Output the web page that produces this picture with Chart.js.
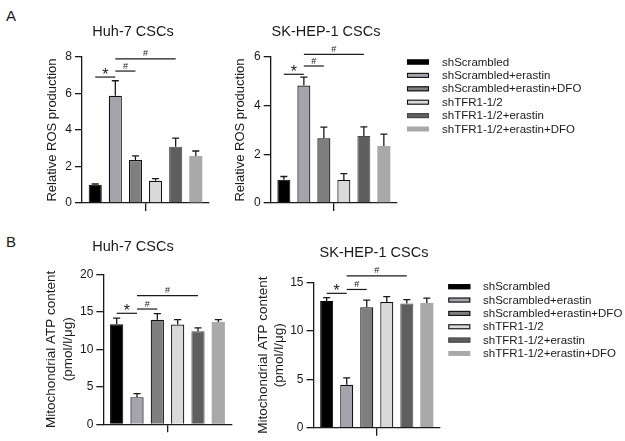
<!DOCTYPE html>
<html>
<head>
<meta charset="utf-8">
<script src="https://cdn.jsdelivr.net/npm/chart.js@4.4.1/dist/chart.umd.min.js"></script>
<style>
html,body{margin:0;padding:0;background:#ffffff;}
body{width:625px;height:441px;position:relative;overflow:hidden;font-family:"Liberation Sans",Arial,sans-serif;}
canvas{position:absolute;}
.letter{position:absolute;left:6px;font-size:15px;line-height:15px;color:#1a1a1a;}
</style>
</head>
<body>
<div class="letter" style="top:8px">A</div>
<div class="letter" style="top:234px">B</div>
<canvas id="rosHuh7" width="266" height="220" style="left:0;top:0"></canvas>
<canvas id="rosSK" width="598" height="220" style="left:27px;top:0"></canvas>
<canvas id="atpHuh7" width="266" height="221" style="left:0;top:220px"></canvas>
<canvas id="atpSK" width="502" height="221" style="left:123px;top:220px"></canvas>
<script>
// ---------- data ----------
const groups = ['shScrambled', 'shScrambled+erastin', 'shScrambled+erastin+DFO',
                'shTFR1-1/2', 'shTFR1-1/2+erastin', 'shTFR1-1/2+erastin+DFO'];
const categories = [''];

const rosHuh7Mean = [1.00, 5.88, 2.35, 1.22, 3.08, 2.58];
const rosHuh7Upper = [1.04, 6.70, 2.58, 1.34, 3.55, 2.85];
const rosSKMean = [0.96, 4.83, 2.66, 0.95, 2.75, 2.34];
const rosSKUpper = [1.09, 5.17, 3.12, 1.21, 3.13, 2.83];

const atpHuh7Mean = [13.35, 3.62, 13.95, 13.30, 12.40, 13.65];
const atpHuh7Upper = [14.15, 4.10, 14.75, 13.95, 12.85, 13.95];
const atpSKMean = [13.10, 4.45, 12.45, 13.00, 12.85, 12.90];
const atpSKUpper = [13.45, 5.15, 13.20, 13.55, 13.25, 13.40];

// significance brackets: pairs of groups, their marks and their heights (data units)
const sigPairs = [[0, 1], [1, 2], [1, 4]];
const sigMarks = ['*', '#', '#'];
const rosHuh7Sig = [6.90, 7.23, 7.90];
const rosSKSig = [5.29, 5.63, 6.11];
const atpHuh7Sig = [14.80, 15.37, 17.15];
const atpSKSig = [13.90, 14.30, 15.70];

// ---------- styles ----------
const FONT = '"Liberation Sans", Arial, sans-serif';
const INK = '#1a1a1a';
const barFill = ['#000000', '#a4a4ac', '#7f7f7f', '#d9d9d9', '#5e5e5e', '#a9a9a9'];
const barEdge = ['#000000', '#111111', '#111111', '#111111', '#4a4a4a', '#a9a9a9'];
const barEdgeW = [1, 1.2, 1.2, 1.2, 1, 0];

Chart.defaults.font.family = FONT;

function errorBarPlugin(upper) {
  return {
    id: 'errorBars',
    afterDatasetsDraw(chart) {
      const ctx = chart.ctx, ys = chart.scales.y;
      ctx.save();
      ctx.strokeStyle = INK;
      ctx.lineWidth = 1.3;
      chart.data.datasets.forEach((ds, i) => {
        const bar = chart.getDatasetMeta(i).data[0];
        const x = bar.x, y0 = bar.y, y1 = ys.getPixelForValue(upper[i]);
        const half = bar.width * 0.27;
        ctx.beginPath();
        ctx.moveTo(x, y0); ctx.lineTo(x, y1);
        ctx.moveTo(x - half, y1); ctx.lineTo(x + half, y1);
        ctx.stroke();
      });
      ctx.restore();
    }
  };
}

function sigPlugin(levels) {
  return {
    id: 'sigBars',
    afterDraw(chart) {
      const ctx = chart.ctx, ys = chart.scales.y;
      ctx.save();
      ctx.strokeStyle = INK;
      ctx.fillStyle = INK;
      ctx.lineWidth = 1.2;
      ctx.textAlign = 'center';
      ctx.textBaseline = 'alphabetic';
      sigPairs.forEach((p, k) => {
        const a = chart.getDatasetMeta(p[0]).data[0].x;
        const b = chart.getDatasetMeta(p[1]).data[0].x;
        const yy = ys.getPixelForValue(levels[k]);
        ctx.beginPath();
        ctx.moveTo(a, yy); ctx.lineTo(b, yy);
        ctx.stroke();
        if (sigMarks[k] === '*') {
          ctx.font = '16px ' + FONT;
          ctx.fillText('*', (a + b) / 2, yy + 3);
        } else {
          ctx.font = '9px ' + FONT;
          ctx.fillText(sigMarks[k], (a + b) / 2, yy - 2.5);
        }
      });
      ctx.restore();
    }
  };
}

function legendPlugin(pos) {
  return {
    id: 'sideLegend',
    afterDraw(chart) {
      const ctx = chart.ctx;
      ctx.save();
      ctx.font = '11.5px ' + FONT;
      ctx.textAlign = 'left';
      ctx.textBaseline = 'middle';
      chart.data.datasets.forEach((ds, i) => {
        const cy = pos.y + i * pos.step;
        ctx.fillStyle = ds.backgroundColor;
        ctx.fillRect(pos.x, cy - 2.5, 22, 5);
        if (ds.borderWidth > 0) {
          ctx.strokeStyle = ds.borderColor;
          ctx.lineWidth = 1.1;
          ctx.strokeRect(pos.x + 0.5, cy - 2, 21, 4);
        }
        ctx.fillStyle = INK;
        ctx.fillText(ds.label, pos.textX, cy + 0.5);
      });
      ctx.restore();
    }
  };
}

function makeChart(id, c) {
  const plugins = [errorBarPlugin(c.upper), sigPlugin(c.sig)];
  if (c.legend) plugins.push(legendPlugin(c.legend));
  return new Chart(document.getElementById(id), {
    type: 'bar',
    data: {
      labels: categories,
      datasets: groups.map((g, i) => ({
        label: g,
        data: [c.mean[i]],
        yAxisID: 'y',
        backgroundColor: barFill[i],
        borderColor: barEdge[i],
        borderWidth: barEdgeW[i],
        borderSkipped: 'start',
        categoryPercentage: 0.95,
        barPercentage: 0.65
      }))
    },
    options: {
      responsive: false,
      animation: false,
      events: [],
      layout: { padding: { top: c.padTop, left: 0, right: 0, bottom: 0 } },
      plugins: {
        legend: { display: false },
        tooltip: { enabled: false },
        title: {
          display: true, text: c.title, color: INK,
          font: { family: FONT, size: 14.5, weight: 'normal' },
          padding: { top: 0, bottom: c.titleGap }
        }
      },
      scales: {
        x: {
          type: 'category', offset: true,
          ticks: { display: false },
          grid: { display: true, offset: false, drawOnChartArea: false, drawTicks: true, tickLength: 8, color: INK, lineWidth: 1.3 },
          border: { display: true, color: INK, width: 1.3 },
          afterFit: s => { s.height = c.xH; }
        },
        y: {
          min: 0, max: c.max,
          ticks: { stepSize: c.step, color: INK, padding: 3, font: { family: FONT, size: 12 } },
          grid: { drawOnChartArea: false, drawTicks: true, tickLength: 7, color: INK, lineWidth: 1.3 },
          border: { display: true, color: INK, width: 1.3 },
          title: {
            display: true, text: c.yTitle, color: INK,
            font: { family: FONT, size: c.yTitleSize },
            padding: { top: c.yTitlePad, bottom: 0 }
          },
          afterFit: s => { s.width = c.yW; }
        },
        yR: {
          position: 'right', display: true,
          ticks: { display: false }, grid: { display: false }, border: { display: false },
          afterFit: s => { s.width = c.rW; }
        }
      }
    },
    plugins: plugins
  });
}

makeChart('rosHuh7', {
  title: 'Huh-7 CSCs', mean: rosHuh7Mean, upper: rosHuh7Upper, sig: rosHuh7Sig,
  max: 8, step: 2, yTitle: 'Relative ROS production', yTitleSize: 13, yTitlePad: 44.2,
  padTop: 23.3, titleGap: 16.3, yW: 82, rW: 57, xH: 17
});
makeChart('rosSK', {
  title: 'SK-HEP-1 CSCs', mean: rosSKMean, upper: rosSKUpper, sig: rosSKSig,
  max: 6, step: 2, yTitle: 'Relative ROS production', yTitleSize: 13, yTitlePad: 205.2,
  padTop: 23.3, titleGap: 16.3, yW: 243.7, rW: 228, xH: 17,
  legend: { x: 380, y: 62, step: 13.4, textX: 415 }
});
makeChart('atpHuh7', {
  title: 'Huh-7 CSCs', mean: atpHuh7Mean, upper: atpHuh7Upper, sig: atpHuh7Sig,
  max: 20, step: 5, yTitle: ['Mitochondrial ATP content', '(pmol/l/\u03bcg)'], yTitleSize: 13.5, yTitlePad: 43.6,
  padTop: 18.6, titleGap: 18.3, yW: 103.3, rW: 34.3, xH: 16.7
});
makeChart('atpSK', {
  title: 'SK-HEP-1 CSCs', mean: atpSKMean, upper: atpSKUpper, sig: atpSKSig,
  max: 15, step: 5, yTitle: ['Mitochondrial ATP content', '(pmol/l/\u03bcg)'], yTitleSize: 13.5, yTitlePad: 132.2,
  padTop: 24.3, titleGap: 21, yW: 190.5, rW: 185, xH: 13.3,
  legend: { x: 325.3, y: 66.7, step: 13.35, textX: 360 }
});
</script>
</body>
</html>
